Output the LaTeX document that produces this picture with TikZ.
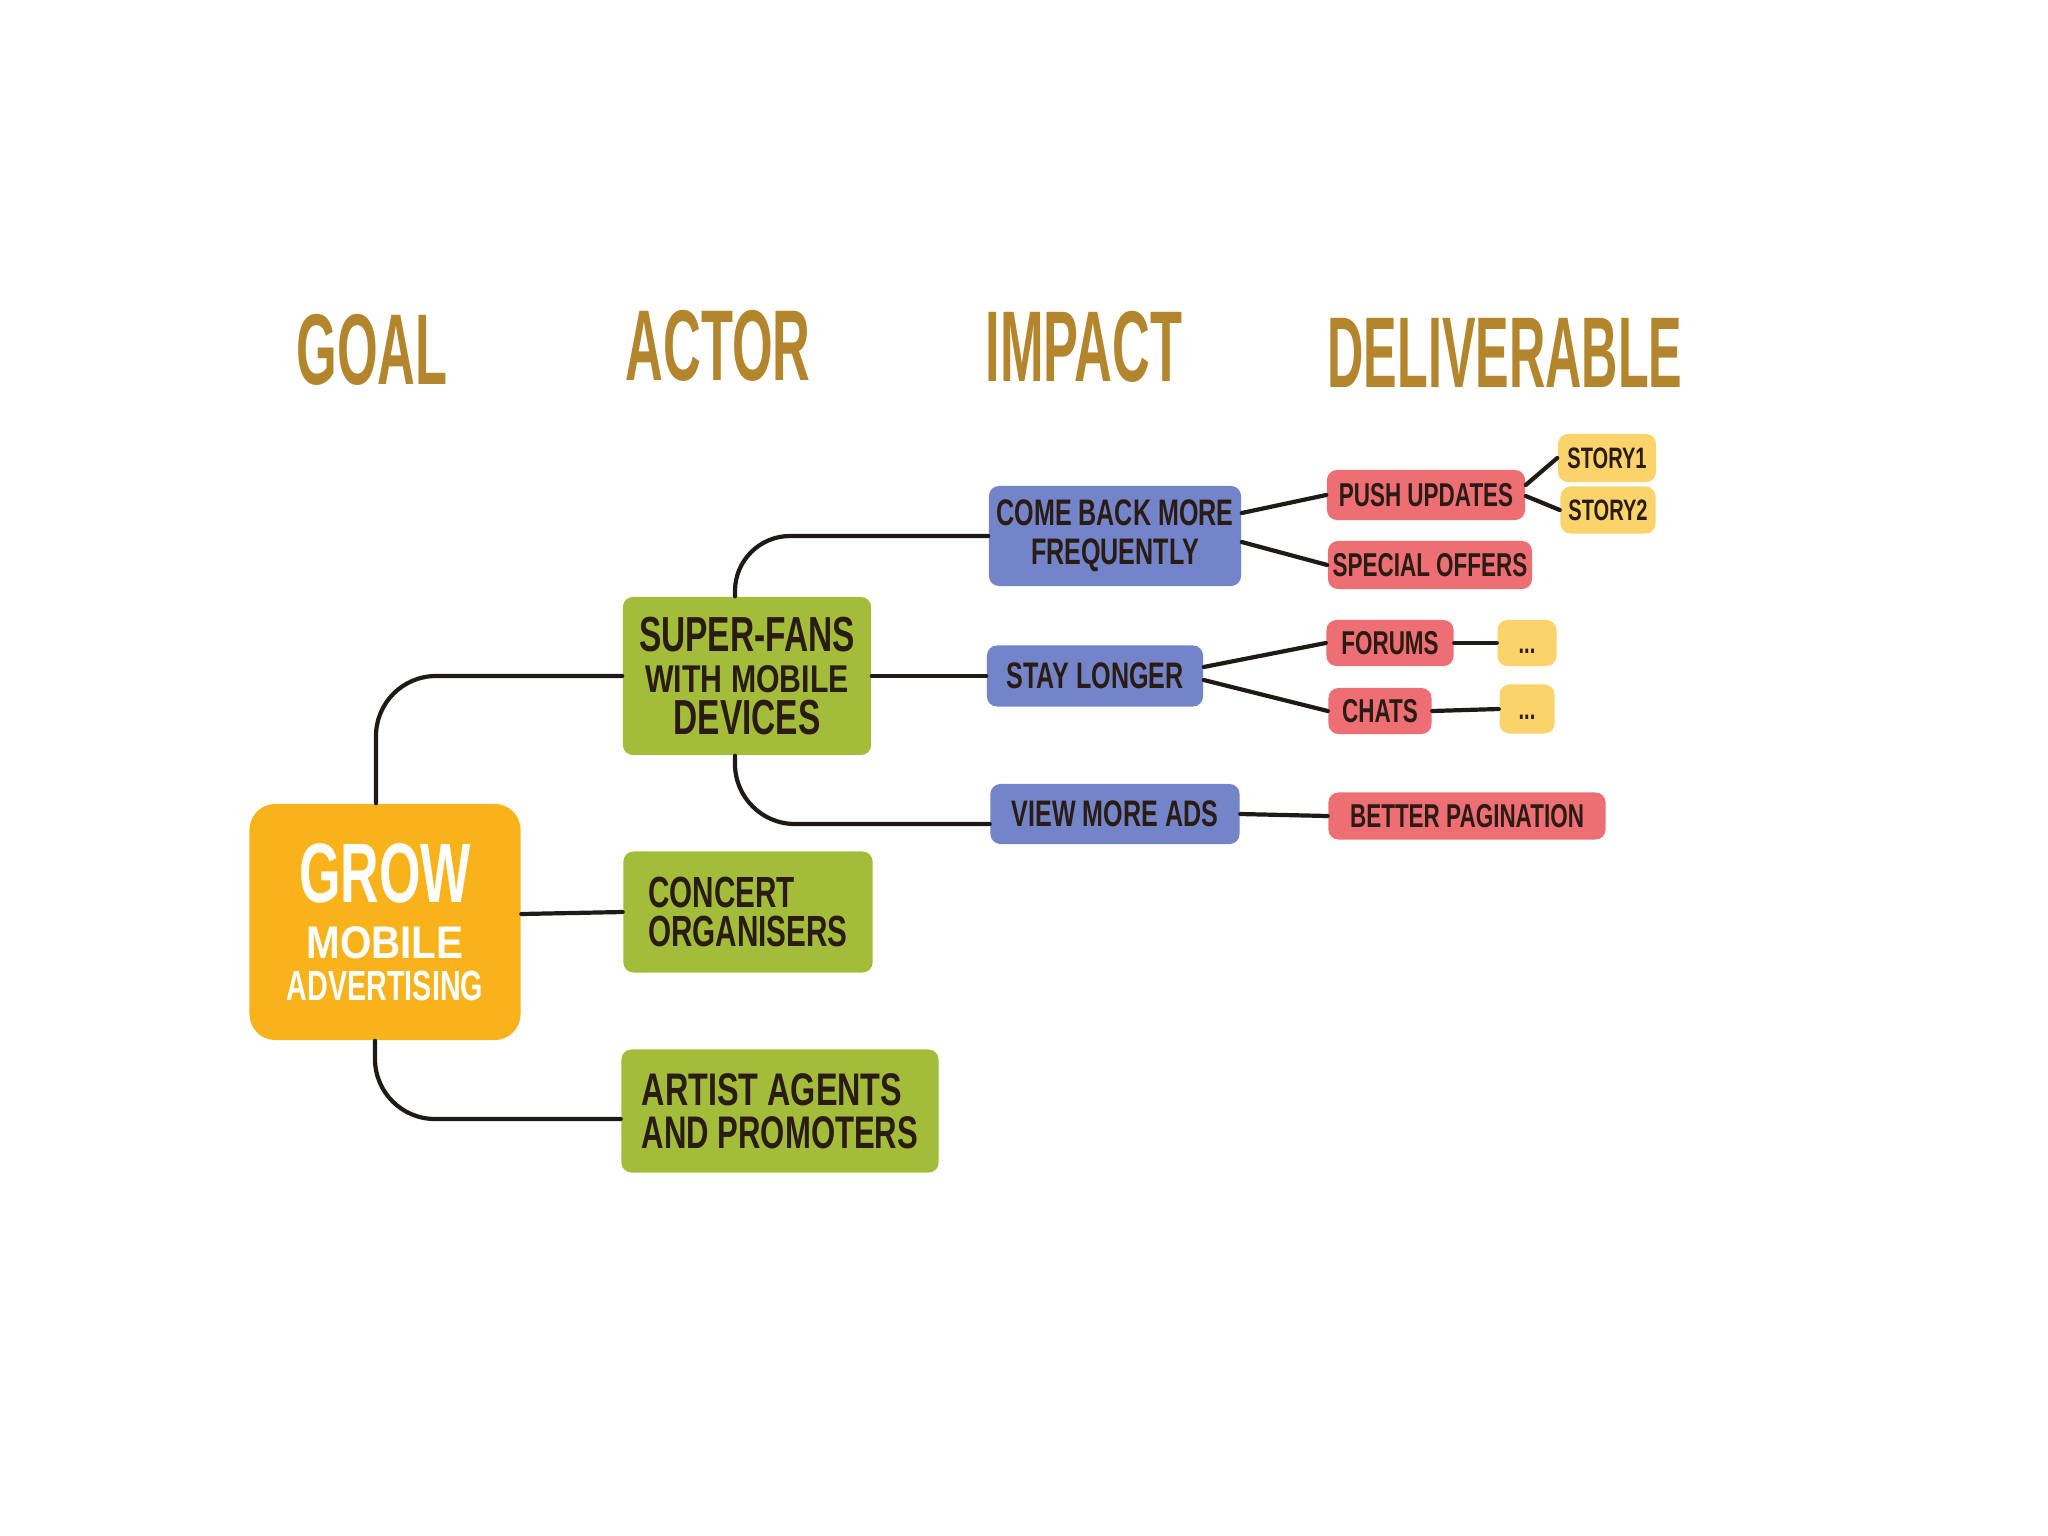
\documentclass[tikz,border=0pt]{standalone}
\usepackage{fontspec}
\setmainfont{Liberation Sans}
\newfontfamily\boxfont[FakeStretch=0.68]{Liberation Sans}
\newfontfamily\headfont[FakeStretch=0.52]{Liberation Sans}
\newcommand\fsz[2]{\fontsize{#1}{#2}\selectfont}
\definecolor{goalC}{HTML}{F8B31B}
\definecolor{actorC}{HTML}{A3BD3B}
\definecolor{impactC}{HTML}{7385C8}
\definecolor{delivC}{HTML}{EE6F73}
\definecolor{subC}{HTML}{FAD46B}
\definecolor{headC}{HTML}{B3852C}
\definecolor{inkC}{HTML}{2A1C14}
\definecolor{lineC}{HTML}{1E1A18}
\tikzset{
  box/.style={rounded corners=0.1cm, inner sep=0pt, align=center, text=inkC},
  goalbox/.style={box, fill=goalC, rounded corners=0.26cm, text=white, font=\boxfont\bfseries},
  actorbox/.style={box, fill=actorC, font=\boxfont\bfseries},
  impactbox/.style={box, fill=impactC, font={\boxfont\bfseries\fsz{10.5}{11.2}}},
  delbox/.style={box, fill=delivC, font={\boxfont\bfseries\fsz{9.4}{10}}},
  subbox/.style={box, fill=subC, font={\boxfont\bfseries\fsz{8.4}{10}}},
  head/.style={inner sep=0pt, text=headC, font={\headfont\bfseries\fsz{28.6}{30}}},
  conn/.style={draw=lineC, line width=0.042cm, line cap=round},
}
\begin{document}
\begin{tikzpicture}[x=0.01cm,y=-0.01cm]
\useasboundingbox[fill=white] (0,0) rectangle (2048,1536);

% headers
\node[head] (hgoal) at (372,350) {GOAL};
\node[head] (hactor) at (718,346) {ACTOR};
\node[head] (himpact) at (1084,347) {IMPACT};
\node[head, font={\headfont\bfseries\fsz{28.6}{30}\addfontfeature{FakeStretch=0.5}}] (hdeliv) at (1505,353) {DELIVERABLE};

% goal
\node[goalbox, minimum width=2.71cm, minimum height=2.36cm] (goal) at (385,922)
  {\fsz{24}{15}\scalebox{0.93}[1]{GROW}\\[4pt]\fsz{13}{15}\scalebox{1.3}[1]{MOBILE}\\\fsz{12}{15}ADVERTISING};

% actors
\node[actorbox, minimum width=2.48cm, minimum height=1.58cm] (sf) at (747,676)
  {\fsz{14}{13.6}SUPER-FANS\\[-0.4pt]\fsz{11}{13.6}\scalebox{1.15}[1]{WITH MOBILE}\\\fsz{14}{13.6}DEVICES};
\node[actorbox, minimum width=2.49cm, minimum height=1.21cm, align=left, font={\boxfont\bfseries\fsz{12.4}{11.2}}] (co) at (748,912)
  {\raisebox{-1pt}{CONCERT}\\\raisebox{-1pt}{ORGANISERS}};
\node[actorbox, minimum width=3.17cm, minimum height=1.23cm, align=left, font={\boxfont\bfseries\fsz{13}{12.2}}] (aa) at (780,1111)
  {\scalebox{1.04}[1]{ARTIST AGENTS}\\AND PROMOTERS};

% impacts
\node[impactbox, minimum width=2.52cm, minimum height=1.00cm] (cb) at (1115,536) {COME BACK MORE\\FREQUENTLY};
\node[impactbox, minimum width=2.16cm, minimum height=0.61cm] (sl) at (1095,676) {STAY LONGER};
\node[impactbox, minimum width=2.49cm, minimum height=0.60cm] (vm) at (1115,814) {VIEW MORE ADS};

% deliverables
\node[delbox, minimum width=1.98cm, minimum height=0.50cm] (pu) at (1426,495) {PUSH UPDATES};
\node[delbox, minimum width=2.04cm, minimum height=0.48cm] (so) at (1430,565) {SPECIAL OFFERS};
\node[delbox, minimum width=1.27cm, minimum height=0.46cm] (fo) at (1390,643) {FORUMS};
\node[delbox, minimum width=1.03cm, minimum height=0.46cm] (ch) at (1380,711) {CHATS};
\node[delbox, minimum width=2.77cm, minimum height=0.47cm] (bp) at (1467,816) {BETTER PAGINATION};

% sub items
\node[subbox, minimum width=0.98cm, minimum height=0.48cm] (s1) at (1607,458) {STORY1};
\node[subbox, minimum width=0.95cm, minimum height=0.47cm] (s2) at (1608,510) {STORY2};
\node[subbox, minimum width=0.59cm, minimum height=0.46cm] (d1) at (1527,643) {\vphantom{S}...};
\node[subbox, minimum width=0.55cm, minimum height=0.49cm] (d2) at (1527,709) {\vphantom{S}...};

% connectors
\draw[conn, rounded corners=0.6cm] ([xshift=-0.09cm]goal.north) |- (sf.west);
\draw[conn] ([yshift=0.08cm]goal.east) -- (co.west);
\draw[conn, rounded corners=0.6cm] ([xshift=-0.1cm]goal.south) |- ([yshift=-0.08cm]aa.west);
\draw[conn, rounded corners=0.55cm] ([xshift=-0.12cm]sf.north) |- (cb.west);
\draw[conn] (sf.east) -- (sl.west);
\draw[conn, rounded corners=0.6cm] ([xshift=-0.12cm]sf.south) |- ([yshift=-0.1cm]vm.west);
\draw[conn] ([yshift=0.23cm]cb.east) -- (pu.west);
\draw[conn] ([yshift=-0.06cm]cb.east) -- (so.west);
\draw[conn] ([yshift=0.09cm]sl.east) -- (fo.west);
\draw[conn] ([yshift=-0.04cm]sl.east) -- (ch.west);
\draw[conn] (vm.east) -- (bp.west);
\draw[conn] ([yshift=0.1cm]pu.east) -- (s1.west);
\draw[conn] ([yshift=-0.01cm]pu.east) -- (s2.west);
\draw[conn] (fo.east) -- (d1.west);
\draw[conn] (ch.east) -- (d2.west);
\end{tikzpicture}
\end{document}
